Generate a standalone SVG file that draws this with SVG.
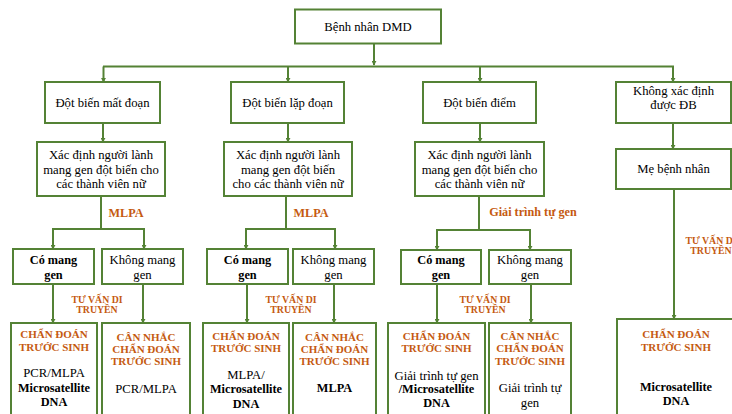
<svg xmlns="http://www.w3.org/2000/svg" width="732" height="414" viewBox="0 0 732 414" font-family="'Liberation Serif', 'Times New Roman', Times, 'DejaVu Serif', serif">
<defs>
<marker id="ah" viewBox="0 0 6 6" refX="5" refY="3" markerWidth="5" markerHeight="5" orient="auto" markerUnits="userSpaceOnUse">
<path d="M0,0 L6,3 L0,6 z" fill="#548235"/>
</marker>
<style>
.box{fill:#fff;stroke:#548235;stroke-width:2}
.ln{fill:none;stroke:#548235;stroke-width:2}
.ar{fill:none;stroke:#548235;stroke-width:2;marker-end:url(#ah)}
text{font-family:'Liberation Serif', 'Times New Roman', Times, 'DejaVu Serif', serif;text-anchor:middle;fill:#000}
.t{font-size:12.7px}
.b{font-size:12.3px;font-weight:bold}
.o{font-size:12.2px;font-weight:bold;fill:#C55A11}
.oc{font-size:11px;font-weight:bold;fill:#C55A11}
.os{font-size:9.8px;font-weight:bold;fill:#C55A11}
</style>
</defs>
<rect width="732" height="414" fill="#fff"/>

<g id="connectors">
<path class="ar" d="M374,43 V65"/>
<path class="ln" d="M103,66.5 H674"/>
<path class="ar" d="M103.5,66.5 V82"/>
<path class="ar" d="M288,66.5 V82"/>
<path class="ar" d="M480,66.5 V82"/>
<path class="ar" d="M673,66.5 V82"/>
<path class="ar" d="M103,123 V142"/>
<path class="ar" d="M288,123 V142"/>
<path class="ar" d="M480,123 V142"/>
<path class="ar" d="M673,123 V149"/>
<path class="ln" d="M101,196 V229 M52,229 H145 M286,196 V229 M245,229 H336 M479,196 V230 M436,230 H531"/>
<path class="ar" d="M53,229 V249"/>
<path class="ar" d="M144,229 V249"/>
<path class="ar" d="M246,229 V249"/>
<path class="ar" d="M335,229 V249"/>
<path class="ar" d="M437,230 V250"/>
<path class="ar" d="M530,230 V250"/>
<path class="ar" d="M53,284 V323"/>
<path class="ar" d="M143,284 V323"/>
<path class="ar" d="M247,284 V323"/>
<path class="ar" d="M334,284 V323"/>
<path class="ar" d="M437,284 V323"/>
<path class="ar" d="M531,284 V323"/>
<path class="ar" d="M674,189 V319"/>
</g>

<g id="labels">
<text class="o" x="126" y="217">MLPA</text>
<text class="o" x="311" y="217">MLPA</text>
<text class="o" x="533" y="216">Giải trình tự gen</text>
<text class="os" x="97" y="302.5">TƯ VẤN DI</text>
<text class="os" x="97" y="313">TRUYỀN</text>
<text class="os" x="291" y="302.5">TƯ VẤN DI</text>
<text class="os" x="291" y="313">TRUYỀN</text>
<text class="os" x="485" y="302.5">TƯ VẤN DI</text>
<text class="os" x="485" y="313">TRUYỀN</text>
<text class="os" x="711" y="243.5">TƯ VẤN DI</text>
<text class="os" x="711" y="254">TRUYỀN</text>
</g>

<g id="n-root"><rect class="box" x="295" y="9.5" width="146" height="34"/><text class="t" x="368" y="31">Bệnh nhân DMD</text></g>

<g id="n-matdoan"><rect class="box" x="45" y="82" width="115" height="41"/><text class="t" x="102.5" y="107">Đột biến  mất đoạn</text></g>
<g id="n-lapdoan"><rect class="box" x="231" y="82" width="113" height="41"/><text class="t" x="287.5" y="107">Đột biến  lặp đoạn</text></g>
<g id="n-diem"><rect class="box" x="423" y="82" width="113" height="41"/><text class="t" x="479.5" y="107">Đột biến điểm</text></g>
<g id="n-khong"><rect class="box" x="616" y="82" width="115" height="41"/><text class="t" x="673.5" y="95">Không xác định</text><text class="t" x="673.5" y="108.5">được ĐB</text></g>

<g id="n-xd1"><rect class="box" x="37" y="142" width="128" height="54"/><text class="t" x="101" y="159">Xác định người lành</text><text class="t" x="101" y="173.5">mang gen đột biến cho</text><text class="t" x="101" y="188">các thành viên nữ</text></g>
<g id="n-xd2"><rect class="box" x="224" y="142" width="128" height="54"/><text class="t" x="288" y="159">Xác định người lành</text><text class="t" x="288" y="173.5">mang gen đột biến</text><text class="t" x="288" y="188">cho các thành viên nữ</text></g>
<g id="n-xd3"><rect class="box" x="415" y="142" width="129" height="54"/><text class="t" x="479.5" y="159">Xác định người lành</text><text class="t" x="479.5" y="173.5">mang gen đột biến cho</text><text class="t" x="479.5" y="188">các thành viên nữ</text></g>
<g id="n-me"><rect class="box" x="616" y="149" width="115" height="40"/><text class="t" x="673.5" y="173">Mẹ bệnh nhân</text></g>

<g id="n-co1"><rect class="box" x="13" y="249" width="81" height="35"/><text class="b" x="53.5" y="264">Có mang</text><text class="b" x="53.5" y="279">gen</text></g>
<g id="n-ko1"><rect class="box" x="102" y="249" width="81" height="35"/><text class="t" x="142.5" y="264">Không mang</text><text class="t" x="142.5" y="279">gen</text></g>
<g id="n-co2"><rect class="box" x="207" y="249" width="81" height="35"/><text class="b" x="247.5" y="264">Có mang</text><text class="b" x="247.5" y="279">gen</text></g>
<g id="n-ko2"><rect class="box" x="293" y="249" width="81" height="35"/><text class="t" x="333.5" y="264">Không mang</text><text class="t" x="333.5" y="279">gen</text></g>
<g id="n-co3"><rect class="box" x="401" y="250" width="80" height="34"/><text class="b" x="441" y="264">Có mang</text><text class="b" x="441" y="279">gen</text></g>
<g id="n-ko3"><rect class="box" x="489" y="250" width="82" height="34"/><text class="t" x="530" y="264">Không mang</text><text class="t" x="530" y="279">gen</text></g>

<g id="n-cd1"><rect class="box" x="11" y="323" width="86" height="100"/><text class="oc" x="54" y="338">CHẨN ĐOÁN</text><text class="oc" x="54" y="351">TRƯỚC SINH</text><text class="t" x="54" y="377">PCR/MLPA</text><text class="b" x="54" y="392">Microsatellite</text><text class="b" x="54" y="406">DNA</text></g>
<g id="n-cn1"><rect class="box" x="102" y="323" width="88" height="100"/><text class="oc" x="146" y="341">CÂN NHẮC</text><text class="oc" x="146" y="353">CHẨN ĐOÁN</text><text class="oc" x="146" y="365">TRƯỚC SINH</text><text class="t" x="146" y="393">PCR/MLPA</text></g>
<g id="n-cd2"><rect class="box" x="203" y="323" width="86" height="100"/><text class="oc" x="246" y="340">CHẨN ĐOÁN</text><text class="oc" x="246" y="352">TRƯỚC SINH</text><text class="t" x="246" y="379">MLPA/</text><text class="b" x="246" y="393">Microsatellite</text><text class="b" x="246" y="408">DNA</text></g>
<g id="n-cn2"><rect class="box" x="293" y="323" width="83" height="100"/><text class="oc" x="334.5" y="341">CÂN NHẮC</text><text class="oc" x="334.5" y="353">CHẨN ĐOÁN</text><text class="oc" x="334.5" y="365">TRƯỚC SINH</text><text class="b" x="334.5" y="392">MLPA</text></g>
<g id="n-cd3"><rect class="box" x="388" y="323" width="97" height="100"/><text class="oc" x="436.5" y="340">CHẨN ĐOÁN</text><text class="oc" x="436.5" y="352">TRƯỚC SINH</text><text class="t" x="436.5" y="380">Giải trình tự gen</text><text class="b" x="436.5" y="393">/Microsatellite</text><text class="b" x="436.5" y="407">DNA</text></g>
<g id="n-cn3"><rect class="box" x="489" y="323" width="82" height="100"/><text class="oc" x="530" y="340">CÂN NHẮC</text><text class="oc" x="530" y="352">CHẨN ĐOÁN</text><text class="oc" x="530" y="365">TRƯỚC SINH</text><text class="t" x="530" y="392">Giải trình tự</text><text class="t" x="530" y="407">gen</text></g>
<g id="n-cd4"><rect class="box" x="617" y="319" width="130" height="104"/><text class="oc" x="676" y="338">CHẨN ĐOÁN</text><text class="oc" x="676" y="351">TRƯỚC SINH</text><text class="b" x="676" y="391">Microsatellite</text><text class="b" x="676" y="405">DNA</text></g>
</svg>
